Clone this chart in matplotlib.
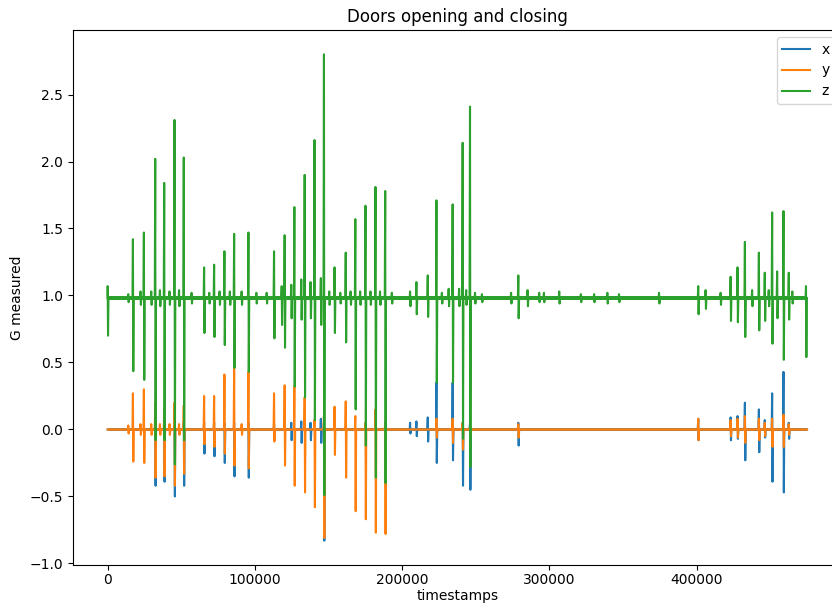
import matplotlib
matplotlib.use("Agg")
import matplotlib.pyplot as plt

# spike events: timestamp, peak, trough
z_t = [0, 14000, 17150, 22300, 24600, 29600, 32300, 35500, 38400, 42000, 45400, 48500,
       51700, 57000, 65500, 69000, 72300, 76000, 79300, 83000, 85900, 91000, 95600,
       101000, 108000, 113000, 118200, 120200, 124700, 126800, 131500, 133800, 137800,
       140500, 144800, 146900, 150500, 154100, 158000, 161700, 165000, 168200, 171500,
       175100, 178500, 181900, 185000, 188500, 193000, 205400, 209700, 217400, 223300,
       227000, 231600, 234300, 238700, 241100, 243500, 246100, 249500, 254200, 274000,
       278900, 285200, 293100, 296300, 306700, 321400, 330400, 339400, 347300, 374500,
       401100, 406100, 416300, 423100, 427800, 432800, 437700, 442300, 446300, 449000,
       451300, 454700, 459000, 462600, 465000, 474300]
z_hi = [1.07, 1.01, 1.42, 1.03, 1.47, 1.03, 2.02, 1.04, 1.84, 1.03, 2.31, 1.04,
        2.03, 1.02, 1.21, 1.02, 1.23, 1.03, 1.33, 1.03, 1.46, 1.03, 1.47,
        1.02, 1.02, 1.33, 1.07, 1.45, 1.08, 1.66, 1.12, 1.90, 1.10,
        2.16, 1.13, 2.80, 1.03, 1.21, 1.02, 1.32, 1.03, 1.57, 1.03,
        1.67, 1.03, 1.81, 1.03, 1.78, 1.02, 1.03, 1.10, 1.15, 1.71,
        1.02, 1.05, 1.68, 1.05, 2.14, 1.04, 2.41, 1.02, 1.01, 1.02,
        1.15, 1.04, 1.02, 1.02, 1.03, 1.01, 1.01, 1.02, 1.01, 1.02,
        1.07, 1.04, 1.02, 1.14, 1.21, 1.40, 1.04, 1.32, 1.17, 1.04,
        1.62, 1.18, 1.63, 1.17, 1.03, 1.07]
z_lo = [0.70, 0.95, 0.435, 0.93, 0.37, 0.93, -0.08, 0.92, -0.08, 0.93, -0.26, 0.92,
        -0.08, 0.94, 0.72, 0.94, 0.69, 0.93, 0.63, 0.93, 0.46, 0.93, 0.43,
        0.94, 0.94, 0.68, 0.78, 0.61, 0.83, 0.32, 0.82, 0.24, 0.83,
        0.07, 0.78, -0.49, 0.93, 0.72, 0.94, 0.65, 0.93, 0.15, 0.93,
        -0.12, 0.93, -0.36, 0.93, -0.40, 0.94, 0.92, 0.86, 0.84, 0.35,
        0.94, 0.92, 0.35, 0.92, -0.07, 0.93, -0.28, 0.94, 0.95, 0.94,
        0.83, 0.92, 0.95, 0.95, 0.94, 0.95, 0.95, 0.94, 0.95, 0.94,
        0.86, 0.90, 0.93, 0.81, 0.80, 0.69, 0.92, 0.74, 0.81, 0.92,
        0.64, 0.83, 0.52, 0.82, 0.94, 0.54]

y_t = [14000, 17150, 22300, 24600, 29600, 32300, 35500, 38400, 42000, 45400, 48500,
       51700, 65500, 72300, 79300, 85900, 91000, 95600, 113000, 120200, 126800,
       133800, 140500, 146900, 154100, 161700, 168200, 175100, 181900, 188500,
       223300, 234300, 241100, 246100, 278900, 401100, 423100, 427800, 432800,
       442300, 446300, 451300, 459000, 462600]
y_hi = [0.03, 0.27, 0.04, 0.30, 0.04, 0.20, 0.04, 0.15, 0.04, 0.20, 0.04,
        0.18, 0.25, 0.25, 0.41, 0.46, 0.04, 0.43, 0.27, 0.33, 0.32,
        0.24, 0.07, 0.10, 0.17, 0.21, 0.10, 0.05, 0.15, 0.05,
        0.08, 0.08, 0.05, 0.02, 0.04, 0.08, 0.07, 0.08, 0.10,
        0.08, 0.05, 0.08, 0.11, 0.04]
y_lo = [-0.03, -0.24, -0.04, -0.25, -0.04, -0.36, -0.04, -0.35, -0.04, -0.42, -0.04,
        -0.33, -0.11, -0.13, -0.18, -0.27, -0.04, -0.29, -0.09, -0.27, -0.42,
        -0.47, -0.58, -0.81, -0.19, -0.36, -0.61, -0.67, -0.77, -0.78,
        -0.06, -0.10, -0.15, -0.05, -0.06, -0.08, -0.05, -0.06, -0.10,
        -0.08, -0.05, -0.13, -0.13, -0.04]

x_t = [32300, 38400, 45400, 51700, 65500, 72300, 79300, 85900, 95600, 113000,
       124700, 131500, 137800, 144800, 146900, 205400, 209700, 217400, 223300,
       234300, 241100, 246100, 278900, 401100, 423100, 427800, 432800, 442300,
       446300, 451300, 459000, 462600]
x_hi = [0.05, 0.05, 0.05, 0.05, 0.05, 0.05, 0.05, 0.05, 0.05, 0.04,
        0.05, 0.06, 0.05, 0.08, 0.05, 0.05, 0.06, 0.09, 0.35,
        0.35, 0.05, 0.05, 0.05, 0.08, 0.09, 0.10, 0.20, 0.15,
        0.07, 0.27, 0.43, 0.05]
x_lo = [-0.42, -0.39, -0.50, -0.42, -0.18, -0.20, -0.25, -0.35, -0.36, -0.03,
        -0.08, -0.10, -0.08, -0.10, -0.83, -0.03, -0.05, -0.09, -0.25,
        -0.23, -0.42, -0.45, -0.12, -0.08, -0.08, -0.07, -0.23, -0.17,
        -0.06, -0.39, -0.47, -0.07]

base = {"x": 0.0, "y": 0.0, "z": 0.98}
band = {"x": 0.010, "y": 0.012, "z": 0.015}   # half width of the quiet noise band
t_end = 475000


def build(ts, hi, lo, b):
    xs, ys = [0], [b]
    for t, h, l in zip(ts, hi, lo):
        xs += [max(t - 300, 0), t, t + 250, t + 550]
        ys += [b, h, l, b]
    xs.append(max(t_end, xs[-1]))
    ys.append(b)
    return xs, ys


fig = plt.figure(figsize=(8.32, 6.05), dpi=100)
ax = fig.add_axes([72.7 / 832, 40 / 605, 769.3 / 832, 535 / 605])

series = [("x", x_t, x_hi, x_lo, "C0"),
          ("y", y_t, y_hi, y_lo, "C1"),
          ("z", z_t, z_hi, z_lo, "C2")]
for name, ts, hi, lo, col in series:
    xs, ys = build(ts, hi, lo, base[name])
    ax.fill_between([0, t_end], base[name] - band[name], base[name] + band[name],
                    color=col, lw=0)
    ax.plot(xs, ys, color=col, lw=1.5, label=name)

ax.tick_params(axis="x", pad=2.5)
ax.set_title("Doors opening and closing")
ax.set_xlabel("timestamps", labelpad=1)
ax.set_ylabel("G measured")
ax.legend(loc="upper right")

fig.savefig("out.png", dpi=100)
